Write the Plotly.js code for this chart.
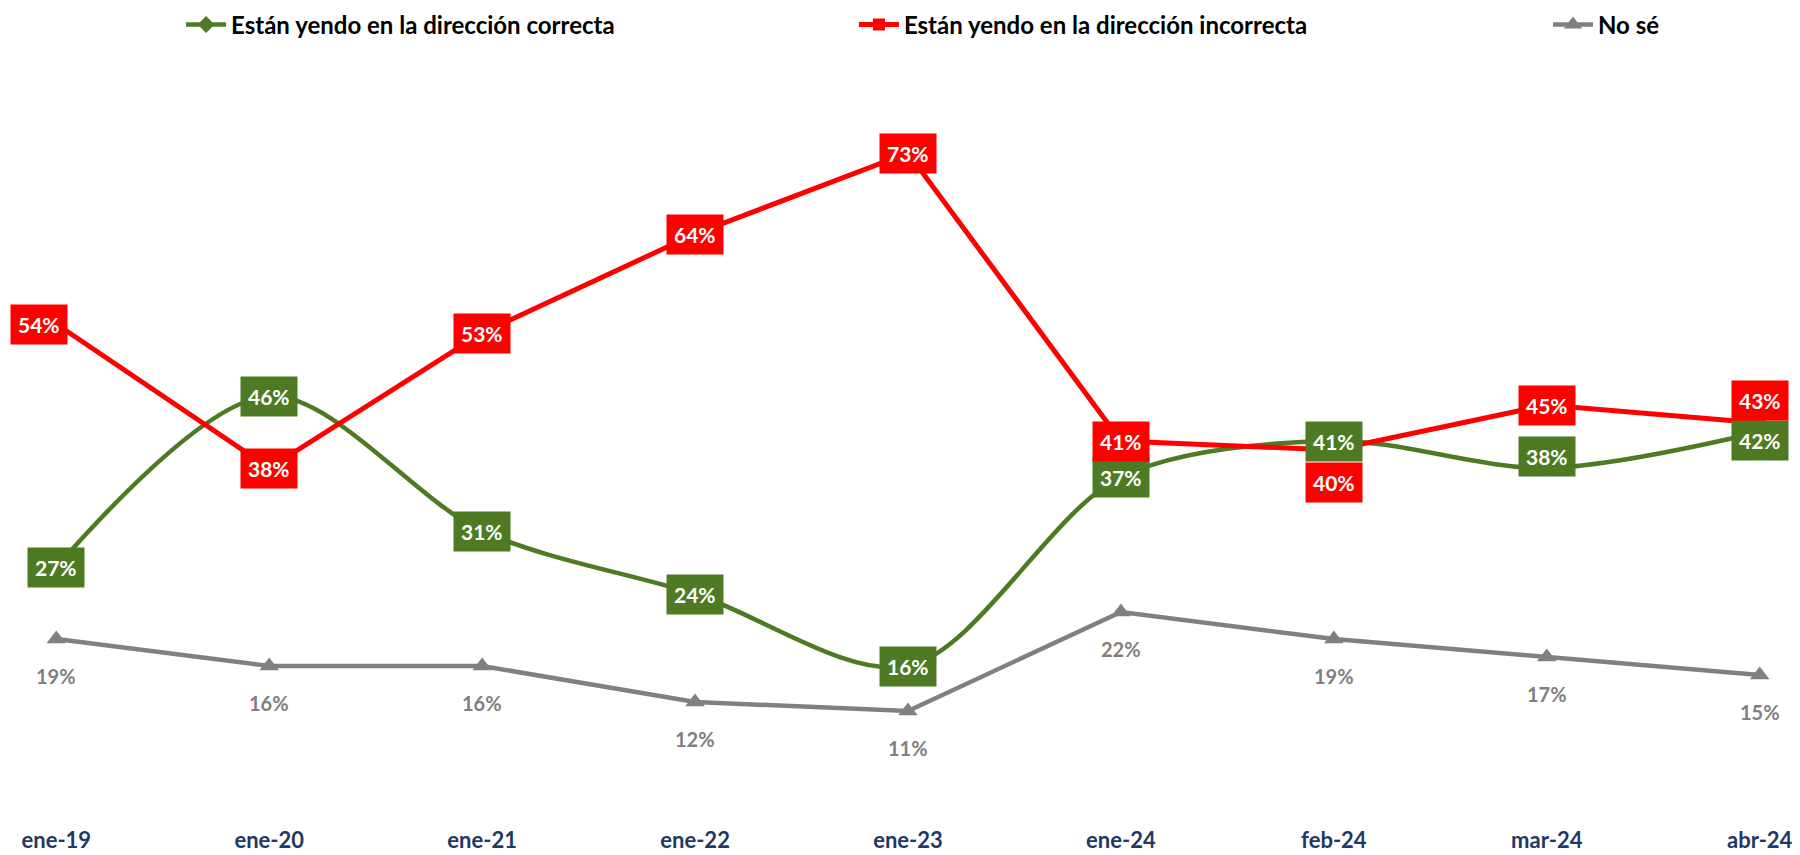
<!DOCTYPE html>
<html>
<head>
<meta charset="utf-8">
<script src="https://cdn.plot.ly/plotly-3.0.1.min.js"></script>
<style>html,body{margin:0;padding:0;background:#fff;}#chart{width:1800px;height:855px;}</style>
</head>
<body>
<div id="chart"></div>
<script>
// ---- data ----
const categories = ["ene-19","ene-20","ene-21","ene-22","ene-23","ene-24","feb-24","mar-24","abr-24"];
const correcta   = [27, 46, 31, 24, 16, 37, 41, 38, 42];
const incorrecta = [54, 38, 53, 64, 73, 41, 40, 45, 43];
const noSe       = [19, 16, 16, 12, 11, 22, 19, 17, 15];
const seriesNames = ["Están yendo en la dirección correcta", "Están yendo en la dirección incorrecta", "No sé"];

// ---- styles ----
const GREEN = "#4E7A23", RED = "#FF0000", GRAY = "#808080";
const FONT = "Lato, 'Open Sans', sans-serif";
const xIdx = categories.map((_, i) => i);

const traces = [
  {x: xIdx, y: correcta, name: seriesNames[0], legend: "legend", mode: "lines+markers",
   line: {color: GREEN, width: 4.5, shape: "spline", smoothing: 0.9},
   marker: {symbol: "diamond", size: 13, color: GREEN}, hoverinfo: "skip"},
  {x: xIdx, y: incorrecta, name: seriesNames[1], legend: "legend2", mode: "lines+markers",
   line: {color: RED, width: 5},
   marker: {symbol: "square", size: 12, color: RED}, hoverinfo: "skip"},
  {x: xIdx, y: noSe, name: seriesNames[2], legend: "legend3", mode: "lines+markers",
   line: {color: GRAY, width: 4.5},
   marker: {symbol: "triangle-up", size: 17, color: GRAY}, hoverinfo: "skip"}
];

// label offsets (pixels) per point index
const greenShift = {7: {y: 12}, 8: {y: -8}};
const redShift = {0: {x: -17}, 6: {y: -32}, 8: {y: 23}};

const annotations = [];
xIdx.forEach(i => {
  const gs = greenShift[i] || {};
  annotations.push({x: i, y: correcta[i], xref: "x", yref: "y", text: correcta[i] + "%",
    showarrow: false, bgcolor: GREEN, borderpad: 7, xshift: gs.x || 0, yshift: gs.y || 0,
    font: {family: FONT, size: 21, color: "#fff", weight: "bold"}});
});
xIdx.forEach(i => {
  const rs = redShift[i] || {};
  annotations.push({x: i, y: incorrecta[i], xref: "x", yref: "y", text: incorrecta[i] + "%",
    showarrow: false, bgcolor: RED, borderpad: 7, xshift: rs.x || 0, yshift: rs.y || 0,
    font: {family: FONT, size: 21, color: "#fff", weight: "bold"}});
});
xIdx.forEach(i => {
  annotations.push({x: i, y: noSe[i], xref: "x", yref: "y", text: noSe[i] + "%",
    showarrow: false, yshift: -37,
    font: {family: FONT, size: 20, color: GRAY, weight: "bold"}});
});

const legendBase = {orientation: "h", xref: "container", yref: "container", y: 0.9708,
  xanchor: "left", yanchor: "middle", itemwidth: 40, bgcolor: "rgba(0,0,0,0)",
  font: {family: FONT, size: 24, color: "#000", weight: "bold"}};

const layout = {
  width: 1800, height: 855,
  margin: {l: 35, r: 19, t: 90, b: 30, autoexpand: false},
  paper_bgcolor: "#fff", plot_bgcolor: "#fff",
  showlegend: true,
  legend: Object.assign({}, legendBase, {x: 0.1006}),
  legend2: Object.assign({}, legendBase, {x: 0.4744}),
  legend3: Object.assign({}, legendBase, {x: 0.86}),
  xaxis: {range: [-0.1, 8.1], tickvals: xIdx, ticktext: categories, showgrid: false,
    zeroline: false, showline: false, ticks: "", fixedrange: true,
    tickfont: {family: FONT, size: 22, color: "#1F3864", weight: "bold"}},
  yaxis: {range: [-1.667, 80], visible: false, showgrid: false, zeroline: false, fixedrange: true},
  annotations: annotations
};

Plotly.newPlot("chart", traces, layout, {staticPlot: true, displayModeBar: false});
</script>
</body>
</html>
